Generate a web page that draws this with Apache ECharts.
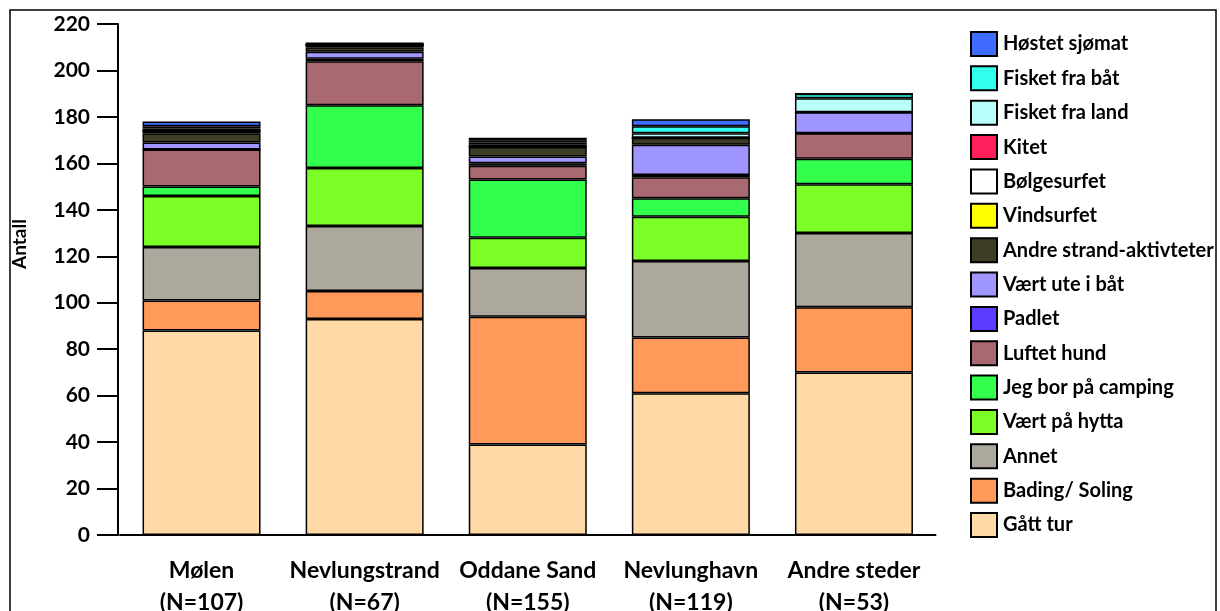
<!DOCTYPE html>
<html>
<head>
<meta charset="utf-8">
<script src="https://cdn.jsdelivr.net/npm/echarts@6/dist/echarts.min.js"></script>
<style>
html,body{margin:0;padding:0;background:#fff;}
#c{width:1220px;height:611px;}
</style>
</head>
<body>
<div id="c"></div>
<script>
const categories = ["Mølen\n(N=107)", "Nevlungstrand\n(N=67)", "Oddane Sand\n(N=155)", "Nevlunghavn\n(N=119)", "Andre steder\n(N=53)"];
const yTicks = [0, 20, 40, 60, 80, 100, 120, 140, 160, 180, 200, 220];

const gattTur        = [88, 93, 39, 61, 70];
const badingSoling   = [13, 12, 55, 24, 28];
const annet          = [23, 28, 21, 33, 32];
const vartPaHytta    = [22, 25, 13, 19, 21];
const camping        = [4, 27, 25, 8, 11];
const luftetHund     = [16, 19, 6, 9, 11];
const padlet         = [0, 1, 1, 1, 0];
const vartUteIBat    = [3, 3, 3, 13, 9];
const andreStrand    = [4, 2, 4, 3, 0];
const vindsurfet     = [1, 1, 0, 0, 0];
const bolgesurfet    = [0, 0, 0, 0, 0];
const kitet          = [0, 0, 1, 0, 0];
const fisketFraLand  = [1, 0, 1, 2, 6];
const fisketFraBat   = [1, 0, 1, 3, 2];
const hostetSjomat   = [2, 1, 1, 3, 0];

const seriesNames = ["Gått tur", "Bading/ Soling", "Annet", "Vært på hytta", "Jeg bor på camping", "Luftet hund", "Padlet", "Vært ute i båt", "Andre strand-aktivteter", "Vindsurfet", "Bølgesurfet", "Kitet", "Fisket fra land", "Fisket fra båt", "Høstet sjømat"];
const seriesData = [gattTur, badingSoling, annet, vartPaHytta, camping, luftetHund, padlet, vartUteIBat, andreStrand, vindsurfet, bolgesurfet, kitet, fisketFraLand, fisketFraBat, hostetSjomat];
const colors = ["#ffd9a6", "#ff9a5a", "#aca89d", "#7bff26", "#33ff4d", "#a86a70", "#5a3cff", "#a096ff", "#3d3d26", "#ffff00", "#ffffff", "#ff1f5a", "#b8fffa", "#33ffee", "#3f6bff"];

const FONT = 'Lato, "DejaVu Sans Condensed", sans-serif';

const chart = echarts.init(document.getElementById('c'));
chart.setOption({
  animation: false,
  backgroundColor: '#fff',
  grid: { left: 120, right: 284.5, top: 24, bottom: 76, containLabel: false, outerBoundsMode: 'none' },
  legend: {
    orient: 'vertical',
    left: 970,
    top: 31,
    padding: 0,
    itemWidth: 26,
    itemHeight: 24,
    itemGap: 8.36,
    selectedMode: false,
    icon: 'rect',
    data: seriesNames.slice().reverse(),
    textStyle: { fontFamily: FONT, fontSize: 20, lineHeight: 24, fontWeight: 'bold', color: '#000', padding: [0, 0, 0, 1] }
  },
  xAxis: {
    type: 'category',
    data: categories,
    axisLine: { lineStyle: { color: '#000', width: 2 } },
    axisTick: { show: false },
    axisLabel: { fontFamily: FONT, fontSize: 23, fontWeight: 'bold', color: '#000', lineHeight: 32, margin: 20, interval: 0 }
  },
  yAxis: {
    type: 'value',
    min: yTicks[0],
    max: yTicks[yTicks.length - 1],
    interval: 20,
    offset: 2,
    splitLine: { show: false },
    axisLine: { show: true, lineStyle: { color: '#000', width: 2 } },
    axisTick: { show: true, inside: false, length: 21, lineStyle: { color: '#000', width: 2 } },
    axisLabel: { fontFamily: FONT, fontSize: 21, fontWeight: 'bold', color: '#000', margin: 28 }
  },
  graphic: [
    { type: 'rect', shape: { x: 10, y: 10, width: 1206, height: 620 }, style: { fill: 'none', stroke: '#000', lineWidth: 1.5 }, silent: true },
    { type: 'text', x: 20, y: 244, rotation: Math.PI / 2, style: { text: 'Antall', font: 'bold 19px ' + FONT, fill: '#000', align: 'center', verticalAlign: 'middle' } }
  ],
  series: seriesNames.map((name, i) => ({
    name: name,
    type: 'bar',
    stack: 'total',
    barWidth: 118,
    data: seriesData[i],
    itemStyle: { color: colors[i], borderColor: '#000', borderWidth: 1.5 }
  }))
});
</script>
</body>
</html>
